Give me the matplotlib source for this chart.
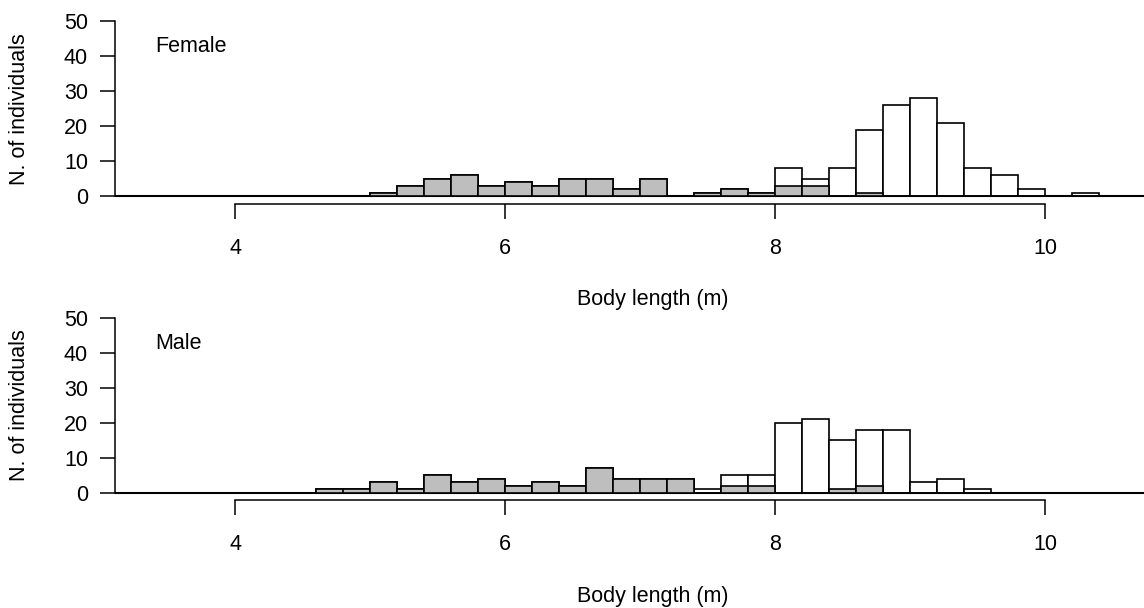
import numpy as np
import matplotlib
matplotlib.use("Agg")
import matplotlib.pyplot as plt

plt.rcParams["font.family"] = ["Liberation Sans", "DejaVu Sans"]

# Histogram bins: 0.2 m wide, from 3.4 m to 10.8 m
bin_start = 3.4
bin_width = 0.2
n_bins = 37

# Female counts per bin (white = all individuals, grey = shaded subset)
female_total = [0, 0, 0, 0, 0, 0, 0, 0,
                1, 3, 5, 6, 3, 4, 3, 5, 5, 2, 5, 0, 1, 2, 1,
                8, 5, 8, 19, 26, 28, 21, 8, 6, 2, 0, 1, 0, 0]
female_shaded = [0, 0, 0, 0, 0, 0, 0, 0,
                 1, 3, 5, 6, 3, 4, 3, 5, 5, 2, 5, 0, 1, 2, 1,
                 3, 3, 0, 1, 0, 0, 0, 0, 0, 0, 0, 0, 0, 0]

# Male counts per bin
male_total = [0, 0, 0, 0, 0, 0,
              1, 1, 3, 1, 5, 3, 4, 2, 3, 2, 7, 4, 4, 4,
              1, 5, 5, 20, 21, 15, 18, 18, 3, 4, 1,
              0, 0, 0, 0, 0, 0]
male_shaded = [0, 0, 0, 0, 0, 0,
               1, 1, 3, 1, 5, 3, 4, 2, 3, 2, 7, 4, 4, 4,
               0, 2, 2, 0, 0, 1, 2, 0, 0, 0, 0,
               0, 0, 0, 0, 0, 0]

panel_labels = ["Female", "Male"]
x_ticks = [4, 6, 8, 10]
y_ticks = [0, 10, 20, 30, 40, 50]
x_label = "Body length (m)"
y_label = "N. of individuals"

W, H = 1144, 608
FS = 15.5
fig = plt.figure(figsize=(W / 100, H / 100), dpi=100)

left_edges = bin_start + bin_width * np.arange(n_bins)

# axes rectangles in pixels: (left, top, right, bottom)
panels = [
    dict(rect=(115, 14.0, 1191, 203.5), total=female_total, shaded=female_shaded,
         label=panel_labels[0], label_base=51.7),
    dict(rect=(115, 310.7, 1191, 500.0), total=male_total, shaded=male_shaded,
         label=panel_labels[1], label_base=349.3),
]

for p in panels:
    l, t, r, b = p["rect"]
    ax = fig.add_axes([l / W, 1 - b / H, (r - l) / W, (b - t) / H])
    ax.set_xlim(3.11, 11.08)
    ax.set_ylim(-2, 52)

    ax.axhline(0, color="black", lw=1.5, zorder=1)
    ax.bar(left_edges, p["total"], width=bin_width, align="edge",
           color="white", edgecolor="black", linewidth=1.2, zorder=2)
    ax.bar(left_edges, p["shaded"], width=bin_width, align="edge",
           color="#BEBEBE", edgecolor="black", linewidth=1.2, zorder=3)

    for side in ("top", "right"):
        ax.spines[side].set_visible(False)
    ax.spines["left"].set_bounds(0, 50)
    ax.spines["bottom"].set_bounds(4, 10)
    for side in ("left", "bottom"):
        ax.spines[side].set_linewidth(1.1)

    ax.set_xticks(x_ticks)
    ax.set_xticklabels([str(v) for v in x_ticks])
    ax.set_yticks(y_ticks)
    ax.set_yticklabels([str(v) for v in y_ticks])
    ax.tick_params(axis="both", direction="out", length=10.5, width=1.1,
                   labelsize=FS)
    ax.tick_params(axis="x", pad=14)
    ax.tick_params(axis="y", pad=9)

    fig.text(155 / W, 1 - p["label_base"] / H, p["label"], fontsize=FS,
             ha="left", va="baseline")
    fig.text(20 / W, 1 - ((t + b) / 2) / H, y_label, fontsize=FS,
             rotation=90, ha="center", va="center")
    fig.text(((l + r) / 2) / W, 1 - (b + 96.5) / H, x_label, fontsize=FS,
             ha="center", va="center")

fig.savefig("out.png", dpi=100)
